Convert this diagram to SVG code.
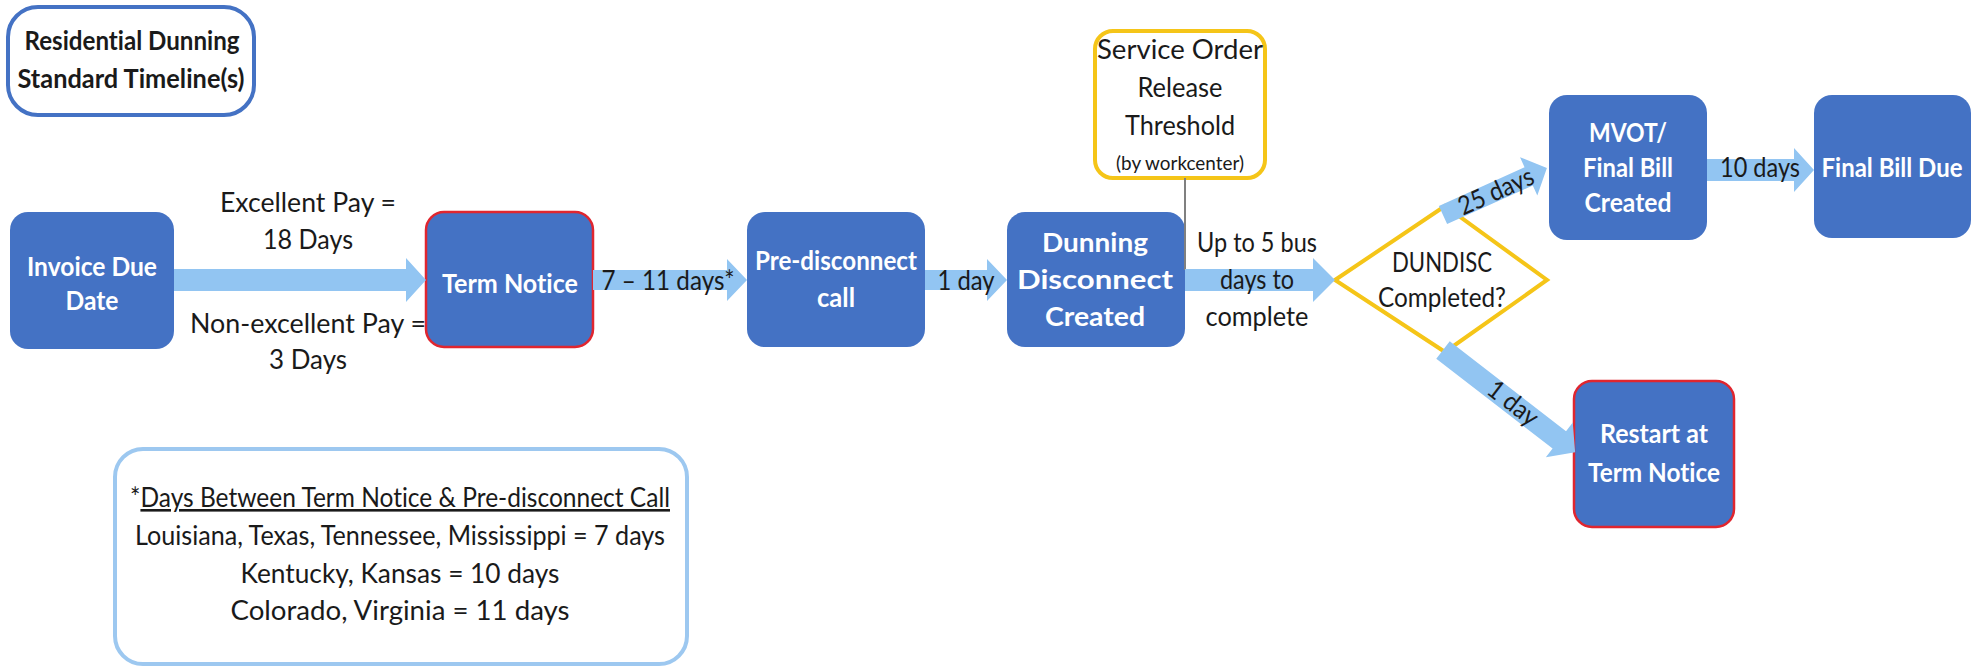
<svg xmlns="http://www.w3.org/2000/svg" width="1978" height="667" viewBox="0 0 1978 667">
<defs>
<style>
text{font-variant-ligatures:none;}
.node{fill:#4472C4;}
.red{stroke:#E0262F;stroke-width:2.5;}
.bt{font-family:Lato,"Open Sans",sans-serif;font-weight:bold;font-size:26px;fill:#FFFFFF;text-anchor:middle;}
.lt{font-family:Lato,"Open Sans",sans-serif;font-size:26px;fill:#1A1A1A;text-anchor:middle;}
.arr{fill:#92C5F2;}
</style>
</defs>
<rect width="1978" height="667" fill="#FFFFFF"/>

<g id="title">
<rect x="8" y="7" width="246" height="108" rx="30" fill="#FFFFFF" stroke="#4472C4" stroke-width="4"/>
<text class="lt" style="font-weight:bold" x="132" y="50" textLength="215" lengthAdjust="spacingAndGlyphs">Residential Dunning</text>
<text class="lt" style="font-weight:bold" x="131" y="88" textLength="227" lengthAdjust="spacingAndGlyphs">Standard Timeline(s)</text>
</g>

<g id="invoice">
<rect class="node" x="10" y="212" width="164" height="137" rx="18"/>
<text class="bt" x="92" y="276" textLength="130" lengthAdjust="spacingAndGlyphs">Invoice Due</text>
<text class="bt" x="92" y="310" textLength="53" lengthAdjust="spacingAndGlyphs">Date</text>
</g>

<g id="term">
<rect class="node red" x="426" y="212" width="167" height="135" rx="18"/>
<text class="bt" x="510" y="293" textLength="136" lengthAdjust="spacingAndGlyphs">Term Notice</text>
</g>

<g id="predisc">
<rect class="node" x="747" y="212" width="178" height="135" rx="18"/>
<text class="bt" x="836" y="270" textLength="162" lengthAdjust="spacingAndGlyphs">Pre-disconnect</text>
<text class="bt" x="836" y="307" textLength="38" lengthAdjust="spacingAndGlyphs">call</text>
</g>

<g id="dunning">
<rect class="node" x="1007" y="212" width="178" height="135" rx="18"/>
<text class="bt" x="1095" y="252" textLength="106" lengthAdjust="spacingAndGlyphs">Dunning</text>
<text class="bt" x="1095" y="289" textLength="156" lengthAdjust="spacingAndGlyphs">Disconnect</text>
<text class="bt" x="1095" y="326" textLength="100" lengthAdjust="spacingAndGlyphs">Created</text>
</g>

<g id="threshold">
<rect x="1095" y="31" width="170" height="147" rx="18" fill="#FFFFFF" stroke="#F5C518" stroke-width="4"/>
<text class="lt" x="1180" y="59" textLength="166" lengthAdjust="spacingAndGlyphs">Service Order</text>
<text class="lt" x="1180" y="97" textLength="85" lengthAdjust="spacingAndGlyphs">Release</text>
<text class="lt" x="1180" y="135" textLength="110" lengthAdjust="spacingAndGlyphs">Threshold</text>
<text class="lt" x="1180" y="170" style="font-size:19px" textLength="128" lengthAdjust="spacingAndGlyphs">(by workcenter)</text>
</g>

<g id="decision">
<polygon points="1335,280 1445,206 1547,280 1445,352" fill="#FFFFFF" stroke="#F5C518" stroke-width="4"/>
<text class="lt" x="1442" y="272" textLength="100" lengthAdjust="spacingAndGlyphs">DUNDISC</text>
<text class="lt" x="1442" y="307" textLength="128" lengthAdjust="spacingAndGlyphs">Completed?</text>
</g>

<g id="mvot">
<rect class="node" x="1549" y="95" width="158" height="145" rx="18"/>
<text class="bt" x="1628" y="142" textLength="78" lengthAdjust="spacingAndGlyphs">MVOT/</text>
<text class="bt" x="1628" y="177" textLength="90" lengthAdjust="spacingAndGlyphs">Final Bill</text>
<text class="bt" x="1628" y="212" textLength="87" lengthAdjust="spacingAndGlyphs">Created</text>
</g>

<g id="finalbill">
<rect class="node" x="1814" y="95" width="157" height="143" rx="18"/>
<text class="bt" x="1892" y="177" textLength="141" lengthAdjust="spacingAndGlyphs">Final Bill Due</text>
</g>

<g id="restart">
<rect class="node red" x="1574" y="381" width="160" height="146" rx="18"/>
<text class="bt" x="1654" y="443" textLength="108" lengthAdjust="spacingAndGlyphs">Restart at</text>
<text class="bt" x="1654" y="482" textLength="132" lengthAdjust="spacingAndGlyphs">Term Notice</text>
</g>

<g id="footnote">
<rect x="115" y="449" width="572" height="215" rx="28" fill="#FFFFFF" stroke="#9DC8F0" stroke-width="4"/>
<text class="lt" x="400" y="507" textLength="540" lengthAdjust="spacingAndGlyphs">*<tspan text-decoration="underline">Days Between Term Notice &amp; Pre-disconnect Call</tspan></text>
<text class="lt" x="400" y="545" textLength="530" lengthAdjust="spacingAndGlyphs">Louisiana, Texas, Tennessee, Mississippi = 7 days</text>
<text class="lt" x="400" y="583" textLength="319" lengthAdjust="spacingAndGlyphs">Kentucky, Kansas = 10 days</text>
<text class="lt" x="400" y="620" textLength="339" lengthAdjust="spacingAndGlyphs">Colorado, Virginia = 11 days</text>
</g>

<g id="connectors">
<line x1="1185" y1="178" x2="1185" y2="270" stroke="#808080" stroke-width="2"/>
<!-- invoice -> term -->
<polygon class="arr" points="174,269 406,269 406,258 426,280 406,302 406,291 174,291"/>
<text class="lt" x="308" y="212" textLength="176" lengthAdjust="spacingAndGlyphs">Excellent Pay =</text>
<text class="lt" x="308" y="249" textLength="90" lengthAdjust="spacingAndGlyphs">18 Days</text>
<text class="lt" x="308" y="333" textLength="236" lengthAdjust="spacingAndGlyphs">Non-excellent Pay =</text>
<text class="lt" x="308" y="369" textLength="78" lengthAdjust="spacingAndGlyphs">3 Days</text>
<!-- term -> predisc -->
<polygon class="arr" points="593,270 727,270 727,259 747,280 727,301 727,290 593,290"/>
<text class="lt" x="668" y="290" textLength="133" lengthAdjust="spacingAndGlyphs">7 – 11 days*</text>
<!-- predisc -> dunning -->
<polygon class="arr" points="925,270 987,270 987,259 1007,280 987,301 987,290 925,290"/>
<text class="lt" x="966" y="290" textLength="57" lengthAdjust="spacingAndGlyphs">1 day</text>
<!-- dunning -> decision -->
<polygon class="arr" points="1185,269 1313,269 1313,258 1335,280 1313,302 1313,291 1185,291"/>
<text class="lt" x="1257" y="252" textLength="120" lengthAdjust="spacingAndGlyphs">Up to 5 bus</text>
<text class="lt" x="1257" y="289" textLength="74" lengthAdjust="spacingAndGlyphs">days to</text>
<text class="lt" x="1257" y="326" textLength="103" lengthAdjust="spacingAndGlyphs">complete</text>
<!-- decision -> mvot -->
<g transform="translate(1443,215) rotate(-24.3)">
<polygon class="arr" points="0,-10 94,-10 94,-21 114,0 94,21 94,10 0,10"/>
<text class="lt" x="58" y="9" textLength="80" lengthAdjust="spacingAndGlyphs">25 days</text>
</g>
<!-- mvot -> final -->
<polygon class="arr" points="1707,159 1794,159 1794,148 1814,170 1794,192 1794,181 1707,181"/>
<text class="lt" x="1760" y="177" textLength="80" lengthAdjust="spacingAndGlyphs">10 days</text>
<!-- decision -> restart -->
<g transform="translate(1443,350) rotate(37.7)">
<polygon class="arr" points="0,-11 147,-11 147,-22 167,0 147,22 147,11 0,11"/>
<text class="lt" x="88" y="8" textLength="57" lengthAdjust="spacingAndGlyphs">1 day</text>
</g>
</g>
</svg>
